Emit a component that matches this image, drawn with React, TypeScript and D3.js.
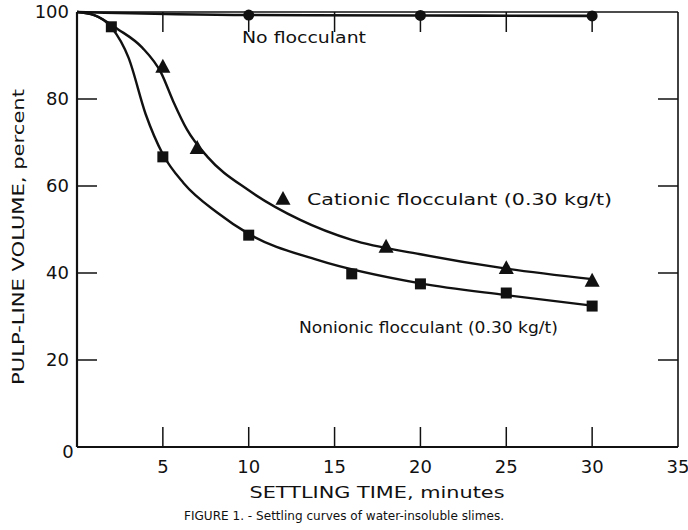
import React, { useEffect, useRef } from "react";
import * as d3 from "d3";

const W = 688;
const H = 530;
const M = { left: 77, top: 12, right: 10, bottom: 83 };

const xTicks = [5, 10, 15, 20, 25, 30, 35];
const yTicks = [20, 40, 60, 80, 100];

// measured markers
const noneX = [10, 20, 30];
const noneY = [99.3, 99.2, 99.1];
const cationicX = [5, 7, 18, 25, 30];
const cationicY = [87.4, 68.7, 46, 41.1, 38.2];
const nonionicX = [2, 5, 10, 16, 20, 25, 30];
const nonionicY = [96.6, 66.7, 48.7, 39.8, 37.5, 35.4, 32.4];

// fitted curves as traced
const noneCurveX = [0, 10, 20, 30];
const noneCurveY = [100, 99.3, 99.2, 99.1];
const cationicCurveX = [0, 1, 2.4, 3.8, 4.9, 5.6, 6.4, 7.6, 10, 13, 16, 20, 25, 30];
const cationicCurveY = [100, 99.3, 96, 91.8, 86, 79.5, 73, 66.7, 59, 52.2, 47.6, 44.3, 41, 38.6];
const nonionicCurveX = [0, 1, 2, 3, 4, 5, 6.2, 8.2, 10, 14, 20, 25, 30];
const nonionicCurveY = [100, 99.3, 96.5, 89.5, 76.5, 67.3, 60.7, 53.8, 49, 43, 37.6, 34.9, 32.5];

const FONT = "DejaVu Sans";

export default function App() {
  const ref = useRef<SVGSVGElement | null>(null);
  useEffect(() => {
    const svg = d3.select(ref.current);
    svg.selectAll("*").remove();
    const x = d3.scaleLinear().domain([0, 35]).range([M.left, W - M.right]);
    const y = d3.scaleLinear().domain([0, 100]).range([H - M.bottom, M.top]);
    const x0 = x(0), x1 = x(35), y0 = y(0), y1 = y(100);
    const ink = "#111";

    // frame
    svg.append("line").attr("x1", x0).attr("x2", x0).attr("y1", y1).attr("y2", y0).attr("stroke", ink).attr("stroke-width", 2.2);
    svg.append("line").attr("x1", x0).attr("x2", x1).attr("y1", y0).attr("y2", y0).attr("stroke", ink).attr("stroke-width", 2.2);
    svg.append("line").attr("x1", x0).attr("x2", x1).attr("y1", y1).attr("y2", y1).attr("stroke", ink).attr("stroke-width", 1.6);
    svg.append("line").attr("x1", x1).attr("x2", x1).attr("y1", y1).attr("y2", y0).attr("stroke", ink).attr("stroke-width", 1.6);

    const TL = 20;
    xTicks.filter((t) => t < 35).forEach((t) => {
      svg.append("line").attr("x1", x(t)).attr("x2", x(t)).attr("y1", y0).attr("y2", y0 - TL).attr("stroke", ink).attr("stroke-width", 1.5);
      svg.append("line").attr("x1", x(t)).attr("x2", x(t)).attr("y1", y1).attr("y2", y1 + TL).attr("stroke", ink).attr("stroke-width", 1.5);
    });
    yTicks.filter((t) => t < 100).forEach((t) => {
      svg.append("line").attr("x1", x0).attr("x2", x0 + TL).attr("y1", y(t)).attr("y2", y(t)).attr("stroke", ink).attr("stroke-width", 1.5);
      svg.append("line").attr("x1", x1).attr("x2", x1 - TL).attr("y1", y(t)).attr("y2", y(t)).attr("stroke", ink).attr("stroke-width", 1.5);
    });

    const txt = (s: string, xx: number, yy: number, size: number, anchor = "start") =>
      svg.append("text").text(s).attr("x", xx).attr("y", yy).attr("font-family", FONT).attr("font-size", size).attr("fill", ink).attr("text-anchor", anchor);

    xTicks.forEach((t) => txt(String(t), x(t), y0 + 26, 18, "middle"));
    yTicks.forEach((t) => txt(String(t), x0 - 8, y(t) + 6, 18, "end"));
    txt("0", x0 - 9, y0 + 11, 18, "middle");

    txt("SETTLING TIME, minutes", 377, 498, 16, "middle").attr("textLength", 255).attr("lengthAdjust", "spacingAndGlyphs");
    txt("FIGURE 1. - Settling curves of water-insoluble slimes.", 344, 520, 12, "middle").attr("textLength", 320).attr("lengthAdjust", "spacingAndGlyphs");
    svg.append("text").text("PULP-LINE VOLUME, percent")
      .attr("transform", `translate(24,${237}) rotate(-90)`)
      .attr("font-family", FONT).attr("font-size", 16).attr("fill", ink).attr("text-anchor", "middle")
      .attr("textLength", 296).attr("lengthAdjust", "spacingAndGlyphs");

    const line = d3.line<[number, number]>().x((d) => x(d[0])).y((d) => y(d[1])).curve(d3.curveMonotoneX);
    const draw = (xs: number[], ys: number[], w: number) =>
      svg.append("path").attr("d", line(xs.map((v, i) => [v, ys[i]] as [number, number]))!).attr("fill", "none").attr("stroke", ink).attr("stroke-width", w);
    draw(noneCurveX, noneCurveY, 2.6);
    draw(cationicCurveX, cationicCurveY, 2.4);
    draw(nonionicCurveX, nonionicCurveY, 2.4);

    noneX.forEach((v, i) => svg.append("circle").attr("cx", x(v)).attr("cy", y(noneY[i])).attr("r", 5.5).attr("fill", ink));
    const tri = (cx: number, cy: number, s: number) => `M${cx},${cy - s * 0.62}L${cx + s * 0.58},${cy + s * 0.45}L${cx - s * 0.58},${cy + s * 0.45}Z`;
    cationicX.forEach((v, i) => svg.append("path").attr("d", tri(x(v), y(cationicY[i]), 13)).attr("fill", ink));
    nonionicX.forEach((v, i) => svg.append("rect").attr("x", x(v) - 5.5).attr("y", y(nonionicY[i]) - 5.5).attr("width", 11).attr("height", 11).attr("fill", ink));

    // legend labels
    svg.append("path").attr("d", tri(283, 199, 13)).attr("fill", ink);
    txt("No flocculant", 242, 43, 16).attr("textLength", 124).attr("lengthAdjust", "spacingAndGlyphs");
    txt("Cationic flocculant (0.30 kg/t)", 307, 205, 16).attr("textLength", 305).attr("lengthAdjust", "spacingAndGlyphs");
    txt("Nonionic flocculant (0.30 kg/t)", 299, 333, 16).attr("textLength", 259).attr("lengthAdjust", "spacingAndGlyphs");
  }, []);
  return (
    <svg ref={ref} width={W} height={H} style={{ position: "absolute", left: 0, top: 0, background: "#fff" }} />
  );
}
